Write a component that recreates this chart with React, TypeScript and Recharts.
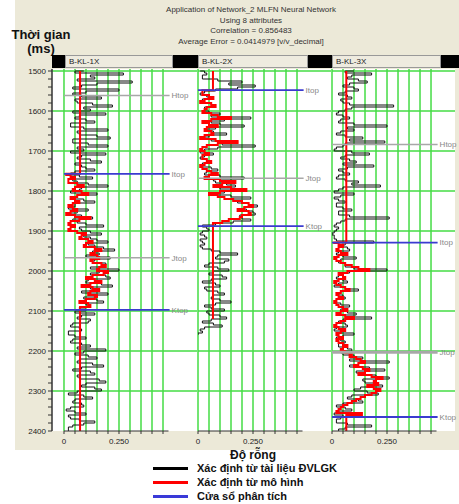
import React from "react";
import { LineChart, Line, XAxis, YAxis, ReferenceLine } from "recharts";

const FONT = "Arial, 'Liberation Sans', sans-serif";
const BEIGE = "#ECE9D8";
const GRID = "#44dc44";
const BLUE = "#3b3bd0";
const HGRAY = "#a8a8a8";

const TITLE_LINES = [
  "Application of Network_2 MLFN Neural Network",
  "Using 8 attributes",
  "Correlation = 0.856483",
  "Average Error = 0.0414979 [v/v_decimal]",
];
const WELLS = ["B-KL-1X", "B-KL-2X", "B-KL-3X"];

// grid + ticks
const T_GRID = [1500, 1600, 1700, 1800, 1900, 2000, 2100, 2200, 2300];
const V_GRID = [0, 0.05, 0.1, 0.15, 0.2, 0.25, 0.3, 0.35, 0.4, 0.45];
const Y_TICKS = Array.from({ length: 46 }, (_, i) => 1500 + i * 20);
const T_MIN = 1495;
const T_MAX = 2400;
const STEP = 5;

// porosity from well logs, sampled every 5 ms
const LOG1_TOP = 1500;
const LOG1 = [
  0.09, 0.05, 0.27, 0.12, 0.14, 0.06, 0.31, 0.15, 0.08, 0.04,
  0.25, 0.1, 0.04, 0.08, 0.17, 0.05, 0.06, 0.13, 0.22, 0.09,
  0.12, 0.04, 0.19, 0.07, 0.05, 0.1, 0.14, 0.03, 0.03, 0.09,
  0.2, 0.06, 0.07, 0.15, 0.21, 0.04, 0.04, 0.11, 0.2, 0.06,
  0.09, 0.03, 0.19, 0.08, 0.06, 0.12, 0.17, 0.05, 0.08, 0.1,
  0.14, 0.05, 0.03, 0.07, 0.13, 0.04, 0.06, 0.11, 0.2, 0.08,
  0.07, 0.03, 0.15, 0.06, 0.04, 0.09, 0.14, 0.05, 0.05, 0.02,
  0.11, 0.06, 0.03, 0.08, 0.13, 0.04, 0.06, 0.1, 0.18, 0.07,
  0.08, 0.12, 0.17, 0.09, 0.12, 0.15, 0.2, 0.11, 0.14, 0.18,
  0.23, 0.13, 0.16, 0.1, 0.21, 0.14, 0.13, 0.19, 0.18, 0.12,
  0.25, 0.16, 0.12, 0.19, 0.21, 0.11, 0.1, 0.17, 0.22, 0.12,
  0.13, 0.08, 0.2, 0.14, 0.09, 0.15, 0.18, 0.1, 0.12, 0.07,
  0.1, 0.05, 0.14, 0.08, 0.06, 0.12, 0.11, 0.04, 0.03, 0.07,
  0.08, 0.02, 0.02, 0.05, 0.1, 0.04, 0.03, 0.08, 0.12, 0.06,
  0.19, 0.09, 0.05, 0.11, 0.15, 0.07, 0.06, 0.13, 0.18, 0.08,
  0.04, 0.12, 0.14, 0.06, 0.07, 0.16, 0.19, 0.1, 0.08, 0.14,
  0.17, 0.06, 0.02, 0.09, 0.13, 0.05, 0.04, 0.08, 0.09, 0.03,
  0.01, 0.05, 0.1, 0.02, 0.03, 0.07, 0.14, 0.09, 0.04, 0.02,
  0.02,
];
const LOG2_TOP = 1500;
const LOG2 = [
  0.01, 0.03, 0.04, 0.02, 0.02, 0.09, 0.2, 0.14, 0.26, 0.18,
  0.08, 0.03, 0.01, 0.04, 0.05, 0.02, 0.02, 0.06, 0.07, 0.03,
  0.03, 0.05, 0.1, 0.06, 0.24, 0.12, 0.06, 0.1, 0.21, 0.08,
  0.04, 0.07, 0.13, 0.05, 0.02, 0.06, 0.18, 0.11, 0.26, 0.09,
  0.03, 0.01, 0.07, 0.03, 0.01, 0.04, 0.05, 0.02, 0.02, 0.06,
  0.09, 0.04, 0.03, 0.1, 0.21, 0.07, 0.08, 0.13, 0.17, 0.1,
  0.22, 0.12, 0.07, 0.15, 0.24, 0.16, 0.18, 0.23, 0.27, 0.21,
  0.22, 0.25, 0.26, 0.19, 0.2, 0.24, 0.16, 0.08, 0.02, 0.04,
  0.05, 0.02, 0.01, 0.03, 0.04, 0.01, 0.02, 0.03, 0.01, 0.02,
  0.06, 0.1, 0.18, 0.09, 0.08, 0.14, 0.12, 0.05, 0.03, 0.09,
  0.14, 0.07, 0.05, 0.11, 0.13, 0.06, 0.02, 0.08, 0.1, 0.03,
  0.04, 0.09, 0.12, 0.07, 0.06, 0.1, 0.15, 0.08, 0.03, 0.06,
  0.12, 0.04, 0.05, 0.1, 0.13, 0.06, 0.02, 0.07, 0.11, 0.03,
  0.01, 0.02, 0.0,
];
const LOG3_TOP = 1500;
const LOG3 = [
  0.1, 0.06, 0.18, 0.09, 0.07, 0.12, 0.16, 0.08, 0.05, 0.1,
  0.12, 0.06, 0.03, 0.07, 0.09, 0.04, 0.05, 0.08, 0.28, 0.09,
  0.06, 0.03, 0.02, 0.05, 0.08, 0.04, 0.03, 0.1, 0.25, 0.07,
  0.1, 0.04, 0.02, 0.06, 0.14, 0.08, 0.24, 0.06, 0.05, 0.02,
  0.01, 0.09, 0.17, 0.06, 0.04, 0.08, 0.11, 0.05, 0.19, 0.07,
  0.03, 0.05, 0.08, 0.03, 0.02, 0.06, 0.12, 0.09, 0.22, 0.05,
  0.03, 0.01, 0.1, 0.04, 0.01, 0.03, 0.06, 0.02, 0.02, 0.05,
  0.09, 0.03, 0.03, 0.08, 0.26, 0.06, 0.04, 0.02, 0.01, 0.03,
  0.02, 0.01, 0.0, 0.01, 0.01, 0.02, 0.19, 0.06, 0.04, 0.07,
  0.08, 0.03, 0.02, 0.05, 0.11, 0.04, 0.03, 0.06, 0.06, 0.1,
  0.25, 0.08, 0.05, 0.03, 0.02, 0.05, 0.07, 0.03, 0.01, 0.06,
  0.12, 0.04, 0.03, 0.05, 0.06, 0.02, 0.02, 0.04, 0.08, 0.05,
  0.04, 0.07, 0.11, 0.06, 0.18, 0.05, 0.03, 0.06, 0.07, 0.02,
  0.01, 0.04, 0.1, 0.05, 0.02, 0.04, 0.06, 0.03, 0.03, 0.07,
  0.09, 0.04, 0.05, 0.1, 0.14, 0.08, 0.26, 0.12, 0.08, 0.17,
  0.24, 0.11, 0.12, 0.2, 0.26, 0.14, 0.15, 0.21, 0.23, 0.13,
  0.1, 0.16, 0.21, 0.09, 0.07, 0.12, 0.14, 0.05, 0.02, 0.06,
  0.09, 0.03, 0.01, 0.05, 0.04, 0.02, 0.02, 0.07, 0.18, 0.06,
  0.03,
];

// porosity predicted by the network inside the analysis window
const MODEL1_TOP = 1760;
const MODEL1 = [
  0.01, 0.03, 0.05, 0.02, 0.02, 0.06, 0.09, 0.05, 0.04, 0.08,
  0.11, 0.06, 0.03, 0.05, 0.07, 0.04, 0.02, 0.04, 0.06, 0.03,
  0.01, 0.05, 0.12, 0.07, 0.03, 0.02, 0.05, 0.03, 0.02, 0.06,
  0.1, 0.08, 0.07, 0.11, 0.13, 0.1, 0.09, 0.14, 0.17, 0.14,
  0.12, 0.15, 0.16, 0.12, 0.13, 0.17, 0.19, 0.16, 0.15, 0.2,
  0.18, 0.13, 0.1, 0.14, 0.17, 0.12, 0.08, 0.13, 0.16, 0.12,
  0.11, 0.15, 0.14, 0.1, 0.07, 0.11, 0.12,
];
const MODEL2_TOP = 1560;
const MODEL2 = [
  0.02, 0.05, 0.07, 0.03, 0.01, 0.06, 0.08, 0.04, 0.03, 0.02,
  0.06, 0.09, 0.15, 0.06, 0.02, 0.05, 0.09, 0.04, 0.03, 0.06,
  0.07, 0.03, 0.01, 0.08, 0.18, 0.09, 0.04, 0.02, 0.01, 0.03,
  0.05, 0.02, 0.02, 0.04, 0.06, 0.03, 0.01, 0.02, 0.04, 0.06,
  0.09, 0.05, 0.03, 0.1, 0.17, 0.11, 0.07, 0.15, 0.22, 0.1,
  0.05, 0.09, 0.12, 0.16, 0.2, 0.23, 0.25, 0.21, 0.18, 0.23,
  0.24, 0.2, 0.19, 0.14, 0.11,
];
const MODEL3_TOP = 1930;
const MODEL3 = [
  0.01, 0.03, 0.05, 0.03, 0.02, 0.04, 0.07, 0.03, 0.01, 0.02,
  0.04, 0.06, 0.09, 0.12, 0.17, 0.07, 0.03, 0.05, 0.06, 0.03,
  0.01, 0.02, 0.04, 0.06, 0.08, 0.04, 0.02, 0.03, 0.05, 0.02,
  0.01, 0.02, 0.03, 0.05, 0.07, 0.04, 0.02, 0.06, 0.1, 0.06,
  0.04, 0.02, 0.01, 0.03, 0.06, 0.04, 0.02, 0.03, 0.05, 0.02,
  0.03, 0.05, 0.07, 0.05, 0.04, 0.06, 0.09, 0.08, 0.11, 0.13,
  0.15, 0.12, 0.1, 0.14, 0.17, 0.15, 0.12, 0.18, 0.23, 0.2,
  0.19, 0.21, 0.16, 0.19, 0.22, 0.2, 0.18, 0.15, 0.13, 0.11,
  0.09, 0.07, 0.05, 0.04, 0.03, 0.02, 0.136,
];
// model value outside the window (flat)
const MODEL_BASE = [0.073, 0.068, 0.065];
// analysis windows [top, bottom] and end of red trace
const WINDOWS = [
  [1757, 2097, 2400],
  [1548, 1888, 2120],
  [1929, 2365, 2400],
];

// horizons per well
const HORIZONS = [
  [
    { name: "Htop", t: 1561, win: false },
    { name: "Itop", t: 1757, win: true },
    { name: "Jtop", t: 1967, win: false },
    { name: "Ktop", t: 2097, win: true },
  ],
  [
    { name: "Itop", t: 1548, win: true },
    { name: "Jtop", t: 1768, win: false },
    { name: "Ktop", t: 1888, win: true },
  ],
  [
    { name: "Htop", t: 1684, win: false },
    { name: "Itop", t: 1929, win: true },
    { name: "Jtop", t: 2203, win: false },
    { name: "Ktop", t: 2365, win: true },
  ],
];

const LEGEND = [
  { label: "Xác định từ tài liệu ĐVLGK", color: "#000" },
  { label: "Xác định từ mô hình", color: "#ff0000" },
  { label: "Cửa sổ phân tích", color: "#3a3ad8" },
];

const toSeries = (top: number, vals: number[]) =>
  vals.map((v, i) => ({ t: top + i * STEP, v }));

const modelSeries = (idx: number, top: number, vals: number[]) => {
  const base = MODEL_BASE[idx];
  const [wTop, wBot, end] = WINDOWS[idx];
  return [
    { t: 1500, v: base },
    { t: wTop, v: base },
    ...toSeries(top, vals),
    { t: wBot, v: base },
    { t: end, v: base },
  ];
};

// left = plot left edge on the page; padL/padR = extra room for labels
const PANELS = [
  { left: 0, width: 197, yW: 52, padL: 0, padR: 0, xMin: -0.0545, xMax: 0.6045, log: toSeries(LOG1_TOP, LOG1), model: modelSeries(0, MODEL1_TOP, MODEL1) },
  { left: 198, width: 133, yW: 0, padL: 8, padR: 0, xMin: 0, xMax: 0.6045, log: toSeries(LOG2_TOP, LOG2), model: modelSeries(1, MODEL2_TOP, MODEL2) },
  { left: 332, width: 123, yW: 0, padL: 8, padR: 4, xMin: 0, xMax: 0.559, log: toSeries(LOG3_TOP, LOG3), model: modelSeries(2, MODEL3_TOP, MODEL3) },
];

const xTickFmt = (v: number) =>
  v === 0 ? "0" : Math.abs(v - 0.25) < 1e-9 ? "0.250" : "";

function Panel({ p, idx }: { p: (typeof PANELS)[number]; idx: number }) {
  return (
    <div style={{ position: "absolute", left: p.left - p.padL, top: 59 }}>
      <LineChart
        width={p.width + p.padL + p.padR}
        height={392}
        layout="vertical"
        margin={{ top: 10, right: p.padR, bottom: 0, left: p.padL }}
      >
        <XAxis
          type="number"
          domain={[p.xMin, p.xMax]}
          allowDataOverflow
          ticks={V_GRID}
          interval={0}
          tickFormatter={xTickFmt}
          axisLine={false}
          tickLine={{ stroke: "#333" }}
          tickSize={3}
          tickMargin={4}
          height={20}
          tick={{ fontSize: 8, fill: "#222", fontFamily: FONT }}
        />
        <YAxis
          type="number"
          dataKey="t"
          domain={[T_MIN, T_MAX]}
          allowDataOverflow
          ticks={Y_TICKS}
          interval={0}
          hide={p.yW === 0}
          width={p.yW}
          tickFormatter={(v: number) => (v % 100 === 0 ? String(v) : "")}
          axisLine={{ stroke: "#333", strokeWidth: 1.5 }}
          tickLine={{ stroke: "#333" }}
          tickSize={4}
          tickMargin={2}
          tick={{ fontSize: 8, fill: "#222", fontFamily: FONT }}
        />
        {V_GRID.map((v) => (
          <ReferenceLine key={"vx" + v} x={v} stroke={GRID} strokeWidth={1.5} />
        ))}
        {T_GRID.map((t) => (
          <ReferenceLine key={"hy" + t} y={t} stroke={GRID} strokeWidth={1.5} />
        ))}
        <Line
          data={p.log}
          dataKey="v"
          type="stepAfter"
          stroke="#111"
          strokeWidth={1}
          dot={false}
          isAnimationActive={false}
        />
        <Line
          data={p.model}
          dataKey="v"
          type="stepAfter"
          stroke="#ff0000"
          strokeWidth={2}
          dot={false}
          isAnimationActive={false}
        />
        {HORIZONS[idx].map((h) => (
          <ReferenceLine
            key={h.name}
            segment={[
              { x: 0, y: h.t },
              { x: 0.48, y: h.t },
            ]}
            stroke={h.win ? BLUE : HGRAY}
            strokeWidth={h.win ? 1.8 : idx === 2 && h.name === "Jtop" ? 3 : 1.5}
            label={{
              value: h.name,
              position: "right",
              offset: 2,
              fill: "#888",
              fontSize: 8,
              fontFamily: FONT,
            }}
          />
        ))}
        <ReferenceLine
          segment={[
            { x: 0, y: T_MAX },
            { x: 0.475, y: T_MAX },
          ]}
          stroke="#333"
          strokeWidth={1}
        />
      </LineChart>
    </div>
  );
}

const HEADER_BOXES = [
  { left: 65, width: 105 },
  { left: 198, width: 107 },
  { left: 332, width: 106 },
];

export default function App() {
  return (
    <div
      style={{
        position: "absolute",
        left: 0,
        top: 0,
        width: 459,
        height: 504,
        background: "#fff",
        fontFamily: FONT,
        overflow: "hidden",
      }}
    >
      <div style={{ position: "absolute", left: 15, top: 0, width: 444, height: 450, background: BEIGE }} />
      <div
        style={{
          position: "absolute",
          left: 100,
          top: 5,
          width: 302,
          textAlign: "center",
          fontSize: 8,
          lineHeight: "10.5px",
          color: "#333",
        }}
      >
        {TITLE_LINES.map((l) => (
          <div key={l}>{l}</div>
        ))}
      </div>
      <div
        style={{
          position: "absolute",
          left: 8,
          top: 28,
          width: 66,
          textAlign: "center",
          fontSize: 13,
          fontWeight: "bold",
          lineHeight: "14px",
          color: "#111",
        }}
      >
        <div>Thời gian</div>
        <div>(ms)</div>
      </div>
      <div style={{ position: "absolute", left: 52, top: 55, width: 407, height: 13, background: "#000" }} />
      {HEADER_BOXES.map((b, i) => (
        <div
          key={WELLS[i]}
          style={{
            position: "absolute",
            left: b.left,
            top: 55,
            width: b.width - 2,
            height: 11,
            background: "#EEEBDF",
            border: "1px solid #999",
            fontSize: 8,
            lineHeight: "11px",
            paddingLeft: 3,
            boxSizing: "content-box",
            color: "#222",
          }}
        >
          {WELLS[i]}
        </div>
      ))}
      <div style={{ position: "absolute", left: 52, top: 69, width: 403, height: 362, background: "#fff" }} />
      {PANELS.map((p, i) => (
        <Panel key={i} p={p} idx={i} />
      ))}
      <div
        style={{
          position: "absolute",
          left: 150,
          top: 448,
          width: 206,
          textAlign: "center",
          fontSize: 12,
          fontWeight: "bold",
          color: "#111",
        }}
      >
        Độ rỗng
      </div>
      {LEGEND.map((e, i) => (
        <div
          key={e.label}
          style={{ position: "absolute", left: 153, top: 461 + i * 14, height: 14, display: "flex", alignItems: "center" }}
        >
          <div style={{ width: 35, height: 3, background: e.color }} />
          <div style={{ marginLeft: 9, fontSize: 11, fontWeight: "bold", color: "#111", whiteSpace: "nowrap" }}>
            {e.label}
          </div>
        </div>
      ))}
    </div>
  );
}
